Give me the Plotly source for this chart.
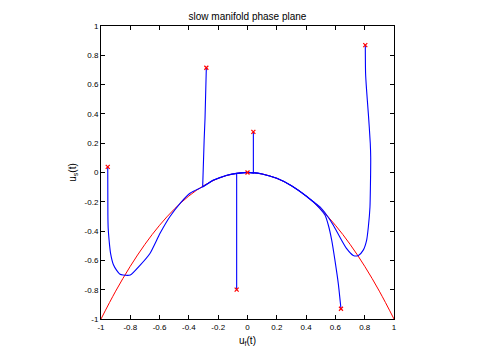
import plotly.graph_objects as go

# slow manifold (red)
manifold_x = [-1.0, -0.9, -0.8, -0.7, -0.6, -0.5, -0.4, -0.3, -0.2, -0.1, 0.0,
              0.1, 0.2, 0.3, 0.4, 0.5, 0.6, 0.7, 0.8, 0.9, 1.0]
manifold_y = [-1.0, -0.81, -0.64, -0.49, -0.36, -0.25, -0.16, -0.09, -0.04, -0.01, 0.0,
              -0.01, -0.04, -0.09, -0.16, -0.25, -0.36, -0.49, -0.64, -0.81, -1.0]

# trajectories (blue)
traj1_x = [-0.954, -0.953, -0.951, -0.945, -0.935, -0.915, -0.893, -0.870, -0.850, -0.80,
           -0.734, -0.666, -0.597, -0.529, -0.46, -0.39, -0.306, -0.235, -0.14, -0.074, 0.0]
traj1_y = [0.038, -0.29, -0.38, -0.46, -0.55, -0.63, -0.668, -0.695, -0.70, -0.70,
           -0.634, -0.553, -0.415, -0.30, -0.21, -0.14, -0.098, -0.053, -0.019, -0.006, 0.0]

traj2_x = [-0.281, -0.283, -0.29, -0.296, -0.30, -0.302, -0.306, -0.235, -0.14, -0.074, 0.0]
traj2_y = [0.715, 0.55, 0.369, 0.22, 0.015, -0.05, -0.099, -0.053, -0.019, -0.006, 0.0]

traj3_x = [-0.074, -0.074, -0.074, -0.074, -0.04, 0.0]
traj3_y = [-0.80, -0.40, -0.10, -0.006, -0.002, 0.0]

traj4_x = [0.04, 0.04, 0.04, 0.02, 0.0]
traj4_y = [0.277, 0.12, -0.004, -0.001, 0.0]

traj5_x = [0.804, 0.806, 0.812, 0.825, 0.838, 0.841, 0.839, 0.836, 0.825, 0.813, 0.79, 0.757,
           0.722, 0.677, 0.63, 0.586, 0.54, 0.495, 0.45, 0.40, 0.30, 0.20, 0.10, 0.03, 0.0]
traj5_y = [0.87, 0.677, 0.574, 0.40, 0.20, 0.10, -0.10, -0.235, -0.37, -0.463, -0.53, -0.566,
           -0.566, -0.52, -0.44, -0.36, -0.29, -0.235, -0.20, -0.16, -0.09, -0.04, -0.01, -0.001, 0.0]

traj6_x = [0.638, 0.62, 0.597, 0.575, 0.552, 0.529, 0.495, 0.46, 0.40, 0.30, 0.20, 0.10, 0.03, 0.0]
traj6_y = [-0.93, -0.76, -0.60, -0.463, -0.36, -0.29, -0.247, -0.21, -0.16, -0.09, -0.04, -0.01, -0.001, 0.0]

start_x = [-0.954, -0.281, -0.074, 0.04, 0.804, 0.638, 0.0]
start_y = [0.038, 0.715, -0.80, 0.277, 0.87, -0.93, 0.0]

tick_vals = [-1, -0.8, -0.6, -0.4, -0.2, 0, 0.2, 0.4, 0.6, 0.8, 1]
tick_text = ["-1", "-0.8", "-0.6", "-0.4", "-0.2", "0", "0.2", "0.4", "0.6", "0.8", "1"]

fig = go.Figure()

fig.add_trace(go.Scatter(x=manifold_x, y=manifold_y, mode="lines",
                         line=dict(color="#ff0000", width=1, shape="spline"),
                         showlegend=False, hoverinfo="skip"))

for tx, ty, shp in [(traj1_x, traj1_y, "spline"), (traj2_x, traj2_y, "linear"),
                    (traj3_x, traj3_y, "linear"), (traj4_x, traj4_y, "linear"),
                    (traj5_x, traj5_y, "spline"), (traj6_x, traj6_y, "spline")]:
    fig.add_trace(go.Scatter(x=tx, y=ty, mode="lines",
                             line=dict(color="#0000ff", width=1.1, shape=shp, smoothing=0.6),
                             showlegend=False, hoverinfo="skip"))

fig.add_trace(go.Scatter(x=start_x, y=start_y, mode="markers",
                         marker=dict(symbol="x-thin", size=4, color="#ff0000",
                                     line=dict(color="#ff0000", width=1.2)),
                         showlegend=False, hoverinfo="skip"))

axis_common = dict(range=[-1, 1], tickvals=tick_vals, ticktext=tick_text,
                   showgrid=False, zeroline=False, showline=True, linecolor="black",
                   linewidth=1, mirror="ticks", ticks="inside", ticklen=4,
                   tickcolor="black", tickfont=dict(family="Arial", size=8, color="black"))

fig.update_layout(
    width=480, height=360,
    margin=dict(l=101, r=86, t=26, b=41),
    paper_bgcolor="white", plot_bgcolor="white",
    title=dict(text="slow manifold phase plane", x=0.5, xref="paper",
               y=1 - 16 / 360, yanchor="middle", yref="container",
               font=dict(family="Arial", size=10, color="black")),
    xaxis=dict(**axis_common,
               title=dict(text="u<sub>f</sub>(t)", standoff=6,
                          font=dict(family="Arial", size=10, color="black"))),
    yaxis=dict(**axis_common,
               title=dict(text="u<sub>s</sub>(t)", standoff=6,
                          font=dict(family="Arial", size=10, color="black"))),
)

fig.write_html("out.html", config={"displayModeBar": False, "staticPlot": True},
               post_script="document.body.style.margin='0';")
